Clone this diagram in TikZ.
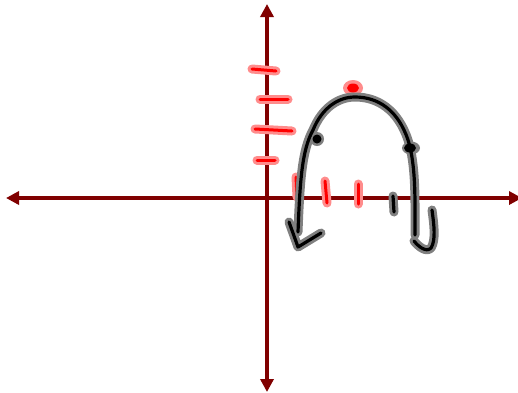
\documentclass[tikz,border=0pt]{standalone}
\usetikzlibrary{arrows.meta}
\definecolor{axisred}{HTML}{800000}
\begin{document}
\begin{tikzpicture}[x=1pt,y=-1pt,
  axis/.style={axisred,line width=4.5pt,-{Triangle[length=13pt,width=13pt]}},
  redglow/.style={red!45,line width=9pt,line cap=round,line join=round},
  redink/.style={red,line width=3pt,line cap=round,line join=round},
  blackglow/.style={black!50,line width=9pt,line cap=round,line join=round},
  blackink/.style={black,line width=3.2pt,line cap=round,line join=round}]
\useasboundingbox (0,0) rectangle (518,392);
\coordinate (O) at (267,198);
\coordinate (xl) at (6,198);
\coordinate (xr) at (522,198);
\coordinate (yt) at (267,4);
\coordinate (yb) at (267,392);
\draw[axis] (O) -- (xl);
\draw[axis] (O) -- (xr);
\draw[axis] (O) -- (yt);
\draw[axis] (O) -- (yb);
% red marks
\foreach \p in {{(252,69) -- (276,71)},{(260,99) -- (288,99)},{(255,129) -- (292,131)},{(257,160) -- (275,160)},
  {(296,177) -- (297,197)},{(325,181) -- (327,203)},{(358,184) -- (358,204)}}{
  \draw[redglow] \p;}
\foreach \p in {{(252,69) -- (276,71)},{(260,99) -- (288,99)},{(255,129) -- (292,131)},{(257,160) -- (275,160)},
  {(296,177) -- (297,197)},{(325,181) -- (327,203)},{(358,184) -- (358,204)}}{
  \draw[redink] \p;}
\fill[red!45] (353,88) ellipse (10pt and 8pt);
\fill[red] (353,88) ellipse (6pt and 4.5pt);
% black curve
\def\curve{(298,232) .. controls (300,180) and (302,150) .. (313,130)
  .. controls (322,108) and (338,97) .. (355,97)
  .. controls (378,97) and (398,110) .. (408,140)
  .. controls (416,165) and (415,200) .. (415,235)}
\def\lhead{(289,222) -- (298,247) -- (321,233)}
\def\hook{(432,210) .. controls (434,225) and (436,240) .. (431,248) .. controls (426,253) and (418,246) .. (414,241)}
\draw[blackglow] \curve;
\draw[blackglow] \lhead;
\draw[blackglow] \hook;
\draw[blackglow] (393,196) -- (394,212);
\fill[black!50] (317,139) circle (7pt);
\fill[black!50] (411,148) ellipse (9pt and 6.5pt);
\draw[blackink] \curve;
\draw[blackink] \lhead;
\draw[blackink] \hook;
\draw[blackink] (393,196) -- (394,212);
\fill (317,139) circle (4.5pt);
\fill (410,148) ellipse (6pt and 4.5pt);
\end{tikzpicture}
\end{document}
